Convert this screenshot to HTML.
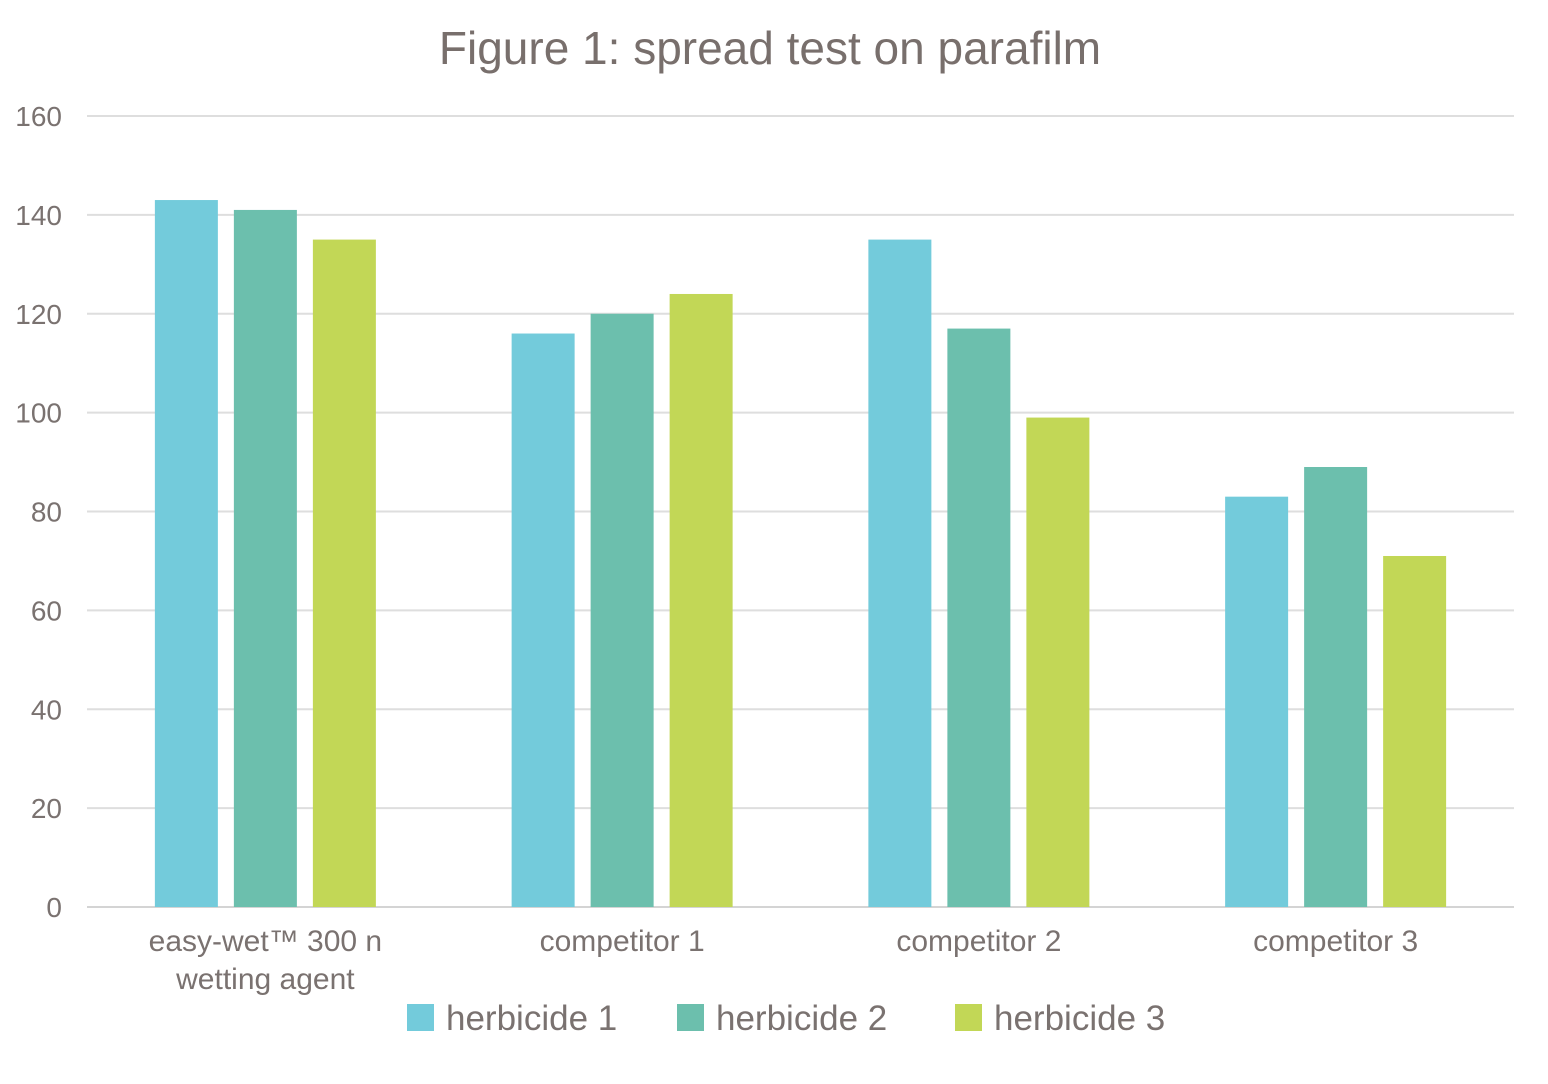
<!DOCTYPE html>
<html><head><meta charset="utf-8"><style>
html,body{margin:0;padding:0;background:#fff;}
svg{display:block;font-family:"Liberation Sans",sans-serif;}
</style></head><body>
<svg id="chart" width="1548" height="1084">
<text x="770" y="64" text-anchor="middle" font-size="46" fill="#786f6c">Figure 1: spread test on parafilm</text>
<g id="grid"></g><g id="bars"></g><g id="xlabels"></g><g id="legend"></g>
</svg>
<script>
const categories = [["easy-wet™ 300 n","wetting agent"],["competitor 1"],["competitor 2"],["competitor 3"]];
const seriesNames = ["herbicide 1","herbicide 2","herbicide 3"];
const herbicide1 = [143,116,135,83];
const herbicide2 = [141,120,117,89];
const herbicide3 = [135,124,99,71];
const yTicks = [0,20,40,60,80,100,120,140,160];
const colors = ["#73cbdb","#6cbfad","#c2d756"];
const NS="http://www.w3.org/2000/svg";
const x0=87,x1=1514,yBase=907,yTop=116,yMax=160;
const y=v=>yBase-(v/yMax)*(yBase-yTop);
const groupW=(x1-x0)/categories.length;
const bw=63,gap=16;
function mk(t,a,p){const e=document.createElementNS(NS,t);for(const k in a)e.setAttribute(k,a[k]);p.appendChild(e);return e;}
const grid=document.getElementById('grid');
yTicks.forEach(t=>{
  const l=mk('line',{x1:x0,x2:x1,y1:y(t),y2:y(t),stroke:t===0?'#d4d4d4':'#dedede','stroke-width':2},grid);
  
  
  const tx=mk('text',{x:62,y:y(t)+10,'text-anchor':'end','font-size':28,fill:'#7a7270'},grid);
  tx.textContent=t;
  
  
});
const series=[herbicide1,herbicide2,herbicide3];
const bars=document.getElementById('bars');
categories.forEach((c,i)=>{
  const cx=x0+groupW*(i+0.5);
  series.forEach((s,j)=>{
    const bx=cx+(j-1)*(bw+gap)-bw/2;
    const r=mk('rect',{x:bx,y:y(s[i]),width:bw,height:yBase-y(s[i]),fill:colors[j]},bars);
    
    
  });
  const xl=document.getElementById('xlabels');
  c.forEach((line,k)=>{
    const t=mk('text',{x:cx,y:951+k*38,'text-anchor':'middle','font-size':30,fill:'#7a7270'},xl);
    t.textContent=line;
    
    
  });
});
const lg=document.getElementById('legend');
const lx=[407,677,955];
seriesNames.forEach((n,j)=>{
  const r=mk('rect',{x:lx[j],y:1004,width:27,height:27,fill:colors[j]},lg);
  
  
  const t=mk('text',{x:lx[j]+39,y:1030,'font-size':35,fill:'#7a7270'},lg);
  t.textContent=n;
  
  
});
</script>
</body></html>
